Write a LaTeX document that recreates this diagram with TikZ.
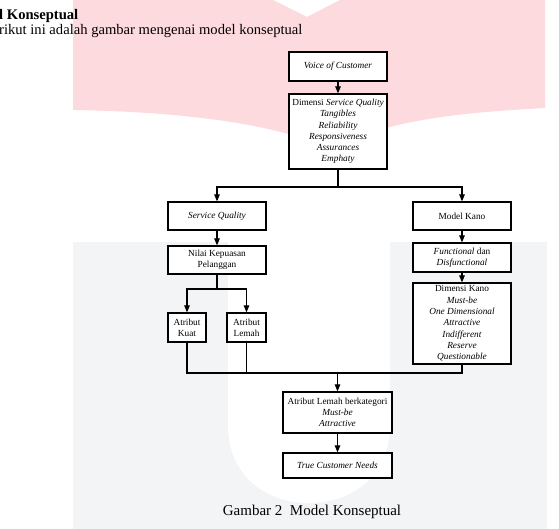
\documentclass[tikz,border=0pt]{standalone}
\usepackage{fontspec}
\setmainfont{Liberation Serif}
\usepackage{tikz}
\usetikzlibrary{arrows.meta}
\newcommand{\boxfont}{\fontsize{9.3}{11.3}\selectfont}
\definecolor{wmpink}{RGB}{253,218,221}
\definecolor{wmgray}{RGB}{243,244,245}
\tikzset{box/.style={draw, line width=1.2pt, fill=white, align=center, inner sep=1pt, font=\boxfont, minimum width=98pt},
         arr/.style={-{Triangle[length=7pt,width=5.5pt]}, line width=1.1pt}}

\begin{document}
\begin{tikzpicture}[x=1pt,y=-1pt]
                    \useasboundingbox (0,0) rectangle (559,529);
                    % watermark
                    \fill[wmpink] (73,0) -- (273,0) -- (307,17) -- (340,0) -- (545,0) -- (545,108)
                        .. controls (450,113) and (380,122) .. (330,150)
                        .. controls (290,128) and (200,112) .. (73,110) -- cycle;
                    \fill[wmgray] (73,242) rectangle (547,529);
                    \fill[white] (228,242) -- (228,425) .. controls (228,475) and (265,503) .. (309,503)
                        .. controls (353,503) and (390,475) .. (390,425) -- (390,242) -- cycle;

                    \node[anchor=base west,inner sep=0,font=\fontsize{14.6}{18}\selectfont] (judul) at (-1,19.5) {\bfseries l Konseptual};
                    \node[anchor=base west,inner sep=0,font=\fontsize{14.6}{18}\selectfont] (kalimat) at (-1,35) {rikut ini adalah gambar mengenai model konseptual};

                    \node[box,minimum height=29pt] (voc) at (338,66.5) {\textit{Voice of Customer}};
                    \node[box,minimum height=75pt] (dsq) at (338,131.5) {Dimensi \textit{Service Quality}\\ \textit{Tangibles}\\ \textit{Reliability}\\ \textit{Responsiveness}\\ \textit{Assurances}\\ \textit{Emphaty}};
                    \node[box,minimum height=28pt] (sq) at (217,216) {\textit{Service Quality}};
                    \node[box,minimum height=28pt] (mk) at (462,216) {Model Kano};
                    \node[box,minimum height=28pt] (nkp) at (217,260) {Nilai Kepuasan\\ Pelanggan};
                    \node[box,minimum height=29pt] (fd) at (462,257.5) {\textit{Functional} dan\\ \textit{Disfunctional}};
                    \node[box,minimum height=81pt] (dk) at (462,323.5) {Dimensi Kano\\ \textit{Must-be}\\ \textit{One Dimensional}\\ \textit{Attractive}\\ \textit{Indifferent}\\ \textit{Reserve}\\ \textit{Questionable}};
                    \node[box,minimum width=38pt,minimum height=29pt] (ak) at (187,327.5) {Atribut\\ Kuat};
                    \node[box,minimum width=39pt,minimum height=29pt] (al) at (246.5,327.5) {Atribut\\ Lemah};
                    \node[box,minimum width=109pt,minimum height=41pt] (alb) at (337.5,412.5) {Atribut Lemah berkategori\\ \textit{Must-be}\\ \textit{Attractive}};
                    \node[box,minimum width=109pt,minimum height=25pt] (tcn) at (337.5,465.5) {\textit{True Customer Needs}};

                    \coordinate (split) at (338,187);
                    \coordinate (fork) at (217,289);
                    \coordinate (join) at (337.5,373);

                    \foreach \a/\b in {voc/dsq,sq/nkp,mk/fd,fd/dk,alb/tcn}{
                        \draw[arr] (\a) -- (\b);
                        }
                    \draw[line width=1.1pt] (dsq) -- (split);
                    \draw[arr] (split) -| (sq);
                    \draw[arr] (split) -| (mk);
                    \draw[line width=1.1pt] (nkp) -- (fork);
                    \draw[arr] (fork) -| (ak);
                    \draw[arr] (fork) -| (al);
                    \draw[line width=1.1pt] (ak) |- (join) -| (dk);
                    \draw[line width=1.1pt] (al) -- (al |- join);
                    \draw[arr] (join) -- (alb);

                    \node[anchor=base,inner sep=0,font=\fontsize{15}{18}\selectfont] (caption) at (312,515) {Gambar 2\ \ Model Konseptual};
                \end{tikzpicture}
\end{document}
